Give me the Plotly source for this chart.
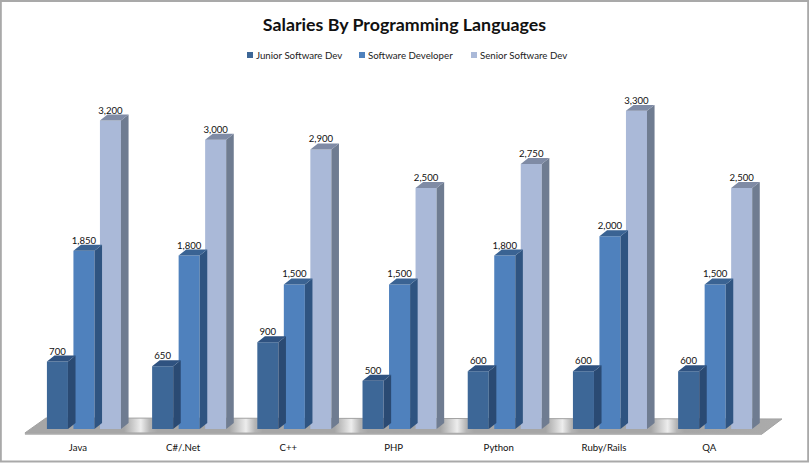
"""Salaries by programming language, 3D look column chart."""
import plotly.graph_objects as go

categories = ["Java", "C#/.Net", "C++", "PHP", "Python", "Ruby/Rails", "QA"]
junior = [700, 650, 900, 500, 600, 600, 600]
developer = [1850, 1800, 1500, 1500, 1800, 2000, 1500]
senior = [3200, 3000, 2900, 2500, 2750, 3300, 2500]

series = [
    ("Junior Software Dev", junior, -0.195, "#3D6797", "#2A4A73", "#2F5280"),
    ("Software Developer", developer, 0.057, "#4F81BD", "#2F5481", "#3A6393"),
    ("Senior Software Dev", senior, 0.309, "#AAB9D8", "#6F7C91", "#7F8BA5"),
]

BAR_W = 0.2
DEPTH_X = 0.072
DEPTH_Y = 62
X_RANGE = [-0.741, 6.949]
Y_RANGE = [-104, 4450]
W, H, PLOT_H = 809, 463, 439

# light streak in each gap between column groups
floor_stops = [[0, "#A6A6A6"]]
for c in (0.153, 0.292, 0.431, 0.571, 0.710, 0.849):
    floor_stops += [[c - 0.022, "#A6A6A6"], [c, "#EDEDED"], [c + 0.012, "#B4B4B4"], [c + 0.022, "#A6A6A6"]]
floor_stops.append([1, "#ABABAB"])

fig = go.Figure()

# floor, sits on the lower axes so the columns draw over it
fig.add_trace(go.Scatter(
    x=[-0.504, -0.304, 6.692, 6.502, -0.504],
    y=[-41, 114, 104, -52, -41],
    mode="lines",
    fill="toself",
    line=dict(color="#A2A2A2", width=1),
    fillgradient=dict(type="horizontal", colorscale=floor_stops),
    hoverinfo="skip",
    showlegend=False,
))
# thicker front edge of the floor
fig.add_trace(go.Scatter(
    x=[-0.504, 6.502], y=[-50, -50], mode="lines",
    line=dict(color="#ABABAB", width=2),
    hoverinfo="skip", showlegend=False,
))

for name, values, offset, front, side, top in series:
    xs = [i + offset for i in range(len(categories))]
    fig.add_trace(go.Bar(
        x=xs, y=values, width=BAR_W, name=name,
        marker=dict(color=front, line=dict(width=0)),
        yaxis="y2", showlegend=False,
    ))
    # side and top faces of each column
    side_x, side_y, top_x, top_y = [], [], [], []
    for x, v in zip(xs, values):
        r = x + BAR_W / 2
        l = x - BAR_W / 2
        side_x += [r, r + DEPTH_X, r + DEPTH_X, r, r, None]
        side_y += [0, DEPTH_Y, v + DEPTH_Y, v, 0, None]
        top_x += [l, l + DEPTH_X, r + DEPTH_X, r, l, None]
        top_y += [v, v + DEPTH_Y, v + DEPTH_Y, v, v, None]
    for px, py, col in ((side_x, side_y, side), (top_x, top_y, top)):
        fig.add_trace(go.Scatter(
            x=px, y=py, mode="lines", fill="toself", fillcolor=col,
            line=dict(width=0), hoverinfo="skip", showlegend=False, yaxis="y2",
        ))
    fig.add_trace(go.Scatter(
        x=xs, y=[v + DEPTH_Y - 15 for v in values], mode="text",
        text=[f"{v:,}" for v in values], textposition="top center",
        textfont=dict(family="Lato", size=9.6, color="#111111"),
        hoverinfo="skip", showlegend=False, yaxis="y2",
    ))

# hand placed legend, swatches sit right next to the text as in the original
legend_x = [247, 359, 471]
shapes = [dict(
    type="rect", xref="paper", yref="paper",
    x0=0.001, x1=0.999, y0=-0.051, y1=0.998,
    line=dict(color="#A9A9A9", width=2), layer="below",
)]
annotations = []
for (name, _, _, front, _, _), lx in zip(series, legend_x):
    shapes.append(dict(
        type="rect", xref="paper", yref="paper",
        x0=lx / W, x1=(lx + 6) / W,
        y0=(PLOT_H - 58) / PLOT_H, y1=(PLOT_H - 52) / PLOT_H,
        fillcolor=front, line=dict(width=0),
    ))
    annotations.append(dict(
        text=name, xref="paper", yref="paper", showarrow=False,
        x=(lx + 8) / W, xanchor="left",
        y=(PLOT_H - 55) / PLOT_H, yanchor="middle",
        xshift=-1,
        font=dict(family="Lato", size=9.7, color="#222222"),
    ))

fig.update_layout(
    width=W, height=H,
    margin=dict(l=0, r=0, t=0, b=H - PLOT_H),
    paper_bgcolor="white", plot_bgcolor="white",
    barmode="overlay",
    showlegend=False,
    title=dict(
        text="<b>Salaries By Programming Languages</b>",
        font=dict(family="Lato", size=17.8, color="#111111"),
        x=0.5, xanchor="center", y=0.947, yanchor="middle",
    ),
    xaxis=dict(
        range=X_RANGE, tickvals=list(range(len(categories))), ticktext=categories,
        showgrid=False, zeroline=False, showline=False, ticks="",
        ticklabelstandoff=1,
        tickfont=dict(family="Lato", size=9.6, color="#111111"),
    ),
    yaxis=dict(range=Y_RANGE, visible=False),
    yaxis2=dict(range=Y_RANGE, visible=False, overlaying="y"),
    shapes=shapes,
    annotations=annotations,
)

fig.write_html(
    "out.html",
    config=dict(displayModeBar=False),
    post_script="document.body.style.margin='0';",
)
